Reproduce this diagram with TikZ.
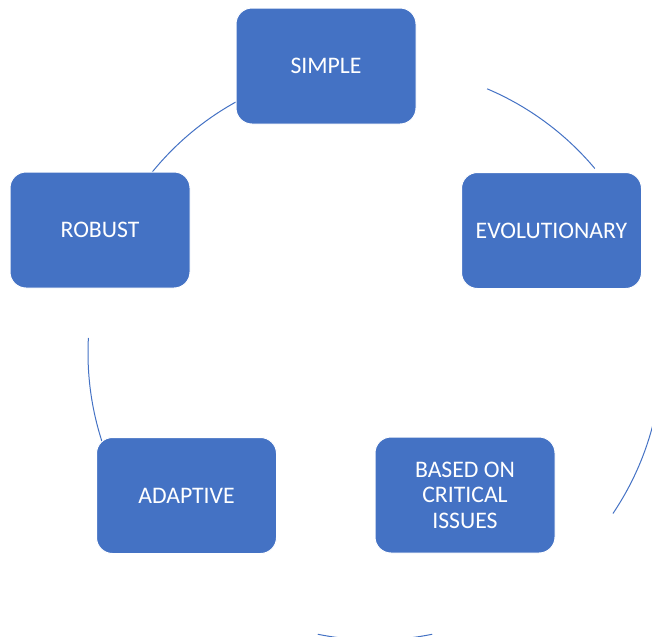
\documentclass[tikz,border=0pt]{standalone}
\usepackage{fontspec}
\setmainfont{Carlito}
\usepackage{tikz}
\usetikzlibrary{positioning}

\definecolor{boxblue}{HTML}{4472C4}

\tikzset{
	item/.style={draw=white,line width=0.75pt,fill=boxblue,rounded corners=12pt,
		minimum width=135pt,minimum height=87pt,inner sep=4pt,text=white,align=center,
		font=\fontsize{17.8}{19.1}\selectfont},
	link/.style={draw=boxblue,line width=0.75pt}
}

\begin{document}
\begin{tikzpicture}[x=0.75pt,y=-0.75pt]
	\useasboundingbox (0,0) rectangle (652,636);
	\clip (0,0) rectangle (652,636);

	\coordinate (ctr) at (375,353);

	\draw[link] ([shift={( 67  :215.25pt)}]ctr) arc[start angle= 67  ,end angle= 40   ,radius=215.25pt];
	\draw[link] ([shift={( 10  :215.25pt)}]ctr) arc[start angle= 10  ,end angle=-34   ,radius=215.25pt];
	\draw[link] ([shift={(-78.5:215.25pt)}]ctr) arc[start angle=-78.5,end angle=-101.5,radius=215.25pt];
	\draw[link] ([shift={(177  :215.25pt)}]ctr) arc[start angle=177  ,end angle=198   ,radius=215.25pt];
	\draw[link] ([shift={(119  :215.25pt)}]ctr) arc[start angle=119  ,end angle=141   ,radius=215.25pt];

	\node[item] (simple) at (326  ,66  ) {SIMPLE};
	\node[item] (evol  ) at (551.5,230.5) {EVOLUTIONARY};
	\node[item] (based ) at (465  ,495 ) {BASED ON\\CRITICAL\\ISSUES};
	\node[item] (adapt ) at (186.5,495.5) {ADAPTIVE};
	\node[item] (robust) at (100  ,230 ) {ROBUST};
\end{tikzpicture}
\end{document}
